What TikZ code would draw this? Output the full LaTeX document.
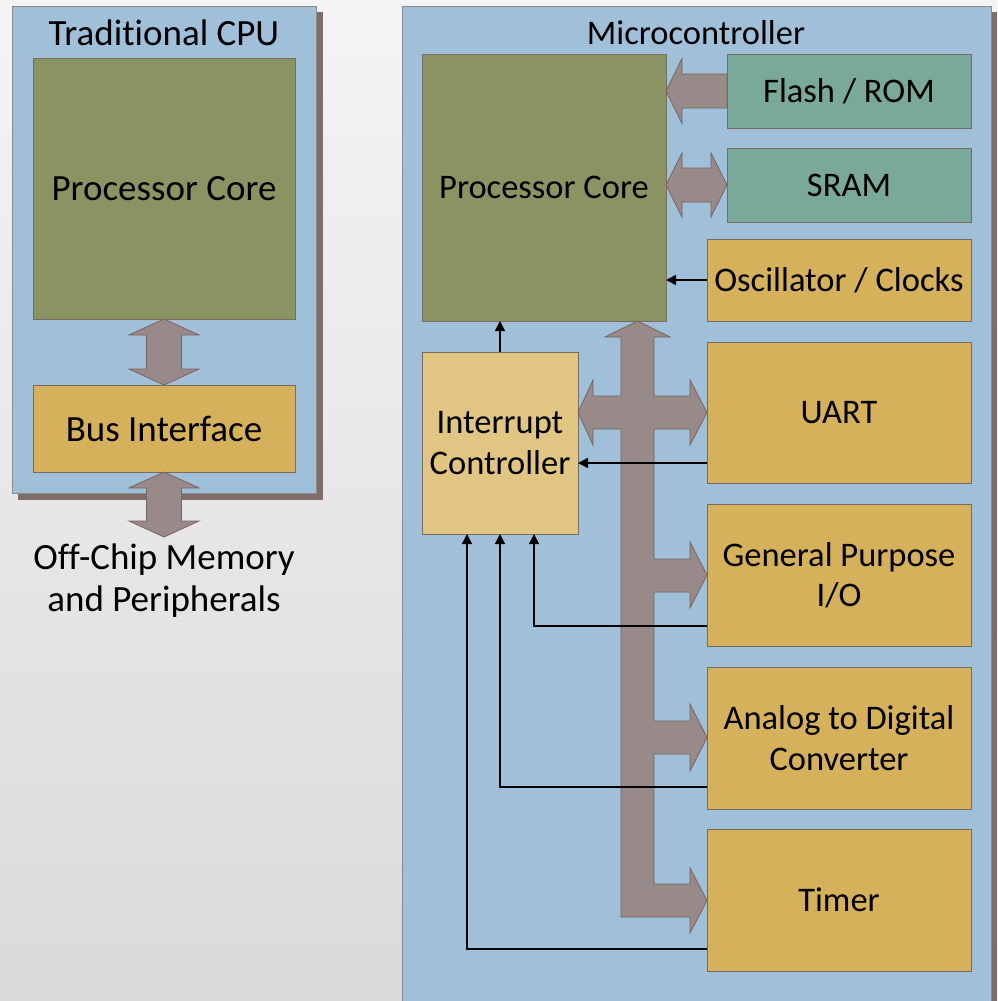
\documentclass[tikz,border=0pt]{standalone}
\usepackage{fontspec}
\setmainfont{Carlito}[Ligatures=NoCommon]
\usetikzlibrary{arrows.meta,calc}

\definecolor{bgtop}{HTML}{F4F4F4}
\definecolor{bgbot}{HTML}{DADADA}
\definecolor{panelfill}{HTML}{A0BFD9}
\definecolor{panelline}{HTML}{8C8C8C}
\definecolor{shadowc}{HTML}{7E6D68}
\definecolor{corefill}{HTML}{8A9463}
\definecolor{perifill}{HTML}{D6B15C}
\definecolor{intfill}{HTML}{E0C583}
\definecolor{memfill}{HTML}{7AA89B}
\definecolor{boxline}{HTML}{7A6A5F}
\definecolor{busfill}{HTML}{978A89}
\definecolor{busline}{HTML}{76655F}

\tikzset{
  blk/.style={draw=boxline, line width=1pt, anchor=north west, inner sep=0pt,
              outer sep=0pt, align=center, text=black},
  panel/.style={fill=panelfill, draw=panelline, line width=1pt},
  shadowbox/.style={fill=shadowc},
  busarrow/.style={fill=busfill, draw=busline, line width=0.8pt, line join=miter},
  sig/.style={draw=black, line width=1.5pt, -{Triangle[length=10pt,width=10pt]}},
  lbl/.style={inner sep=0pt, align=center, text=black},
  bigtext/.style={font=\fontsize{37}{42}\selectfont},
  midtext/.style={font=\fontsize{34.5}{40.5}\selectfont}
}

\begin{document}
\begin{tikzpicture}[x=1pt, y=-1pt]
  \useasboundingbox (0,0) rectangle (997,1001);
  \shade[top color=bgtop, bottom color=bgbot] (0,0) rectangle (997,1001);

  % ---- Traditional CPU panel ----
  \begin{scope}[every node/.append style={bigtext}]
  \fill[shadowbox] (18,12) rectangle (323,500);
  \draw[panel] (12,6) rectangle (316,493);
  \node[lbl] (tcpu) at (164,33) {Traditional CPU};
  \node[blk, fill=corefill, minimum width=262pt, minimum height=261pt] (lcore) at (33,58) {Processor Core};
  \node[blk, fill=perifill, minimum width=262pt, minimum height=87pt] (busif) at (33,385) {Bus Interface};

  % core <-> bus interface
  \draw[busarrow] (164,319) -- (199,335) -- (181.5,335) -- (181.5,369) -- (199,369) -- (164,385)
     -- (129,369) -- (146.5,369) -- (146.5,335) -- (129,335) -- cycle;
  % bus interface <-> off-chip
  \draw[busarrow] (164,472) -- (199,488) -- (181.5,488) -- (181.5,521) -- (199,521) -- (164,537)
     -- (129,521) -- (146.5,521) -- (146.5,488) -- (129,488) -- cycle;
  \node[lbl] (offchip) at (164,581) {Off-Chip Memory\\and Peripherals};
  \end{scope}

  % ---- Microcontroller panel ----
  \begin{scope}[every node/.append style={midtext}]
  \fill[shadowbox] (408,12) rectangle (997,1010);
  \draw[panel] (402,6) rectangle (991,1010);
  \node[lbl] (mcu) at (696,33) {Microcontroller};

  \node[blk, fill=corefill, minimum width=244pt, minimum height=267pt] (core) at (422,54) {Processor Core};
  \node[blk, fill=memfill, minimum width=244pt, minimum height=74pt] (flash) at (727,54) {Flash / ROM};
  \node[blk, fill=memfill, minimum width=244pt, minimum height=74pt] (sram) at (727,148) {SRAM};
  \node[blk, fill=perifill, minimum width=264pt, minimum height=82pt] (osc) at (707,239) {Oscillator / Clocks};
  \node[blk, fill=perifill, minimum width=264pt, minimum height=141pt] (uart) at (707,342) {UART};
  \node[blk, fill=perifill, minimum width=264pt, minimum height=142pt] (gpio) at (707,504) {General Purpose\\I/O};
  \node[blk, fill=perifill, minimum width=264pt, minimum height=142pt] (adc) at (707,667) {Analog to Digital\\Converter};
  \node[blk, fill=perifill, minimum width=264pt, minimum height=142pt] (timer) at (707,829) {Timer};
  \node[blk, fill=intfill, minimum width=156pt, minimum height=182pt] (intc) at (422,352) {Interrupt\\Controller};
  \end{scope}

  % flash -> core
  \draw[busarrow] (666,91) -- (682,58.5) -- (682,74) -- (727,74) -- (727,108) -- (682,108)
     -- (682,123.5) -- cycle;
  % core <-> sram
  \draw[busarrow] (666,185) -- (682,153) -- (682,168) -- (711,168) -- (711,153) -- (727,185)
     -- (711,217) -- (711,202) -- (682,202) -- (682,217) -- cycle;

  % internal peripheral bus
  \draw[busarrow] (637.5,321) -- (670,337) -- (654,337)
     -- (654,396) -- (690,396) -- (690,380) -- (707,412.5) -- (690,445) -- (690,429) -- (654,429)
     -- (654,559) -- (690,559) -- (690,542) -- (707,575) -- (690,608) -- (690,592) -- (654,592)
     -- (654,721) -- (690,721) -- (690,704) -- (707,737.5) -- (690,771) -- (690,754) -- (654,754)
     -- (654,884) -- (690,884) -- (690,868) -- (707,900.5) -- (690,933) -- (690,917)
     -- (621,917) -- (621,429) -- (593,429) -- (593,445) -- (578,412.5) -- (593,380) -- (593,396)
     -- (621,396) -- (621,337) -- (605,337) -- cycle;

  % control and interrupt signals
  \draw[sig] (osc.west) -- (osc.west -| core.east);
  \draw[sig] (intc.north) -- (intc.north |- core.south);
  \draw[sig] ([yshift=-50.5pt]uart.west) -- ([yshift=-50.5pt]uart.west -| intc.east);
  \draw[sig] ([yshift=-51pt]gpio.west) -| ([xshift=34pt]intc.south);
  \draw[sig] ([yshift=-49pt]adc.west) -| (intc.south);
  \draw[sig] ([yshift=-49pt]timer.west) -| ([xshift=-33pt]intc.south);
\end{tikzpicture}
\end{document}
